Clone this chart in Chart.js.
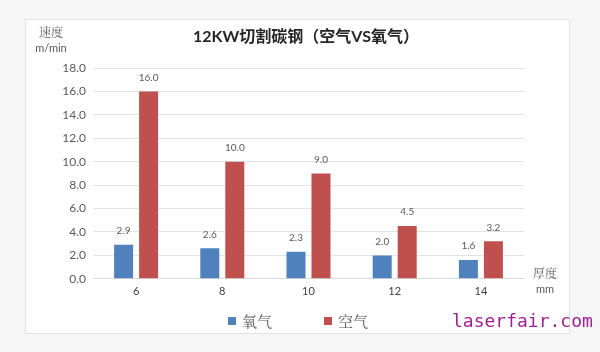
<!DOCTYPE html>
<html>
<head>
<meta charset="utf-8">
<script src="https://cdn.jsdelivr.net/npm/chart.js@4"></script>
<style>
  body { margin: 0; width: 600px; height: 352px; background: #f6f6f6; position: relative; overflow: hidden; }
  #panel { position: absolute; left: 25px; top: 19px; width: 545px; height: 315px; background: #fff; border: 1px solid #e2e2e2; box-sizing: border-box; }
  #panel canvas { position: absolute; left: 0; top: 0; }
  .lbl { position: absolute; font-family: 'Noto Serif CJK SC', 'Noto Sans CJK SC', serif; color: #595959; font-size: 12px; text-align: center; line-height: 15px; }
  #title { position: absolute; left: 156px; top: 23px; width: 300px; text-align: center; font-family: Lato, 'Noto Sans CJK SC', sans-serif; font-weight: bold; font-size: 16px; color: #262626; }
  #legend { position: absolute; left: 228px; top: 311px; display: flex; font-family: 'Noto Serif CJK SC', 'Noto Sans CJK SC', serif; font-size: 15px; color: #595959; line-height: 20px; }
  #legend .item { display: flex; align-items: center; margin-right: 52px; }
  #legend .box { width: 8px; height: 8px; margin-right: 6px; }
  #mark { position: absolute; left: 452px; top: 310px; font-family: 'DejaVu Sans Mono', monospace; font-size: 18px; color: #a0208f; }
</style>
</head>
<body>
<div id="panel">
  <canvas id="chart" width="545" height="315"></canvas>
</div>
<div id="title">12KW切割碳钢（空气VS氧气）</div>
<div class="lbl" style="left:33px; top:24px; width:36px;">速度<br><span style="font-family: Lato, sans-serif; font-size: 11px;">m/min</span></div>
<div class="lbl" style="left:527px; top:265px; width:36px;">厚度<br><span style="font-family: Lato, sans-serif; font-size: 11px;">mm</span></div>
<div id="legend"></div>
<div id="mark">laserfair.com</div>
<script>
const thickness = ['6', '8', '10', '12', '14']
const oxygen = [2.9, 2.6, 2.3, 2.0, 1.6]
const air = [16.0, 10.0, 9.0, 4.5, 3.2]
const seriesNames = ['氧气', '空气']
const seriesColors = ['#4f81bd', '#c0504d']

const valueLabels = {
    id: 'valueLabels',
    afterDatasetsDraw(chart) {
        const c = chart.ctx
        c.save()
        c.font = '10px Lato, sans-serif'
        c.fillStyle = '#595959'
        c.textAlign = 'center'
        c.textBaseline = 'bottom'
        chart.data.datasets.forEach(function(ds, i) {
            chart.getDatasetMeta(i).data.forEach(function(bar, j) {
                c.fillText(ds.data[j].toFixed(1), bar.x, bar.y - 9)
            })
        })
        c.restore()
    }
}

const chart = new Chart(document.getElementById('chart'), {
    type: 'bar',
    data: {
        labels: thickness,
        datasets: [
            { label: seriesNames[0], data: oxygen, backgroundColor: seriesColors[0] },
            { label: seriesNames[1], data: air, backgroundColor: seriesColors[1] }
        ]
    },
    options: {
        responsive: false,
        animation: false,
        categoryPercentage: 0.58,
        barPercentage: 0.76,
        layout: { padding: { left: 0, right: 47, top: 48, bottom: 39 } },
        scales: {
            x: {
                grid: { display: false },
                border: { color: '#d9d9d9' },
                ticks: { color: '#404040', font: { family: 'Lato', size: 11 }, padding: -2 }
            },
            y: {
                min: 0,
                max: 18,
                ticks: {
                    stepSize: 2,
                    color: '#595959',
                    font: { family: 'Lato', size: 12 },
                    padding: 7,
                    callback: function(v) { return v.toFixed(1) }
                },
                grid: { color: '#e3e3e3', drawTicks: false },
                border: { display: false },
                afterFit: function(axis) { axis.width = 67 }
            }
        },
        plugins: {
            legend: { display: false },
            tooltip: { enabled: false }
        }
    },
    plugins: [valueLabels]
})

// legend built from the datasets
const legend = document.getElementById('legend')
chart.data.datasets.forEach(function(ds) {
    const item = document.createElement('div')
    item.className = 'item'
    const box = document.createElement('span')
    box.className = 'box'
    box.style.background = ds.backgroundColor
    const text = document.createElement('span')
    text.textContent = ds.label
    item.appendChild(box)
    item.appendChild(text)
    legend.appendChild(item)
})
</script>
</body>
</html>
